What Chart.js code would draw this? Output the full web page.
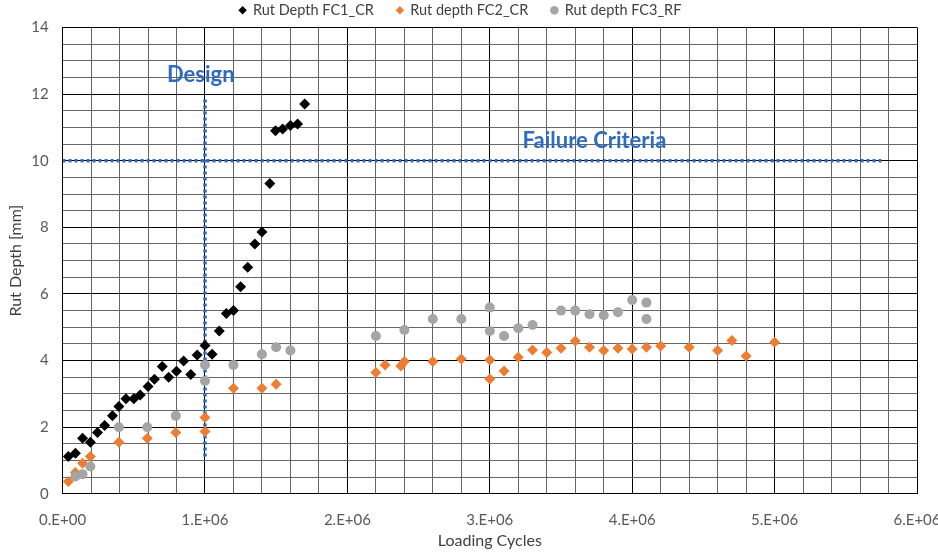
<!DOCTYPE html>
<html>
<head>
<meta charset="utf-8">
<script src="https://cdn.jsdelivr.net/npm/chart.js@4"></script>
<style>
  html, body { margin: 0; padding: 0; background: #fff; overflow: hidden; }
  #wrap { width: 938px; height: 553px; }
</style>
</head>
<body>
<div id="wrap"><canvas id="c" width="938" height="553"></canvas></div>
<script>
// Rut depth measurements against loading cycles
const fc1Cycles = [40000, 90000, 140000, 195000, 245000, 295000, 350000, 395000, 445000, 500000,
  545000, 600000, 645000, 700000, 745000, 800000, 850000, 900000, 945000, 1000000,
  1050000, 1100000, 1150000, 1200000, 1250000, 1300000, 1350000, 1400000, 1455000, 1495000,
  1545000, 1600000, 1650000, 1700000];
const fc1Depth = [1.12, 1.22, 1.67, 1.55, 1.84, 2.05, 2.34, 2.62, 2.85, 2.85,
  2.97, 3.22, 3.44, 3.82, 3.50, 3.68, 3.99, 3.58, 4.17, 4.45,
  4.19, 4.89, 5.41, 5.50, 6.22, 6.80, 7.50, 7.86, 9.32, 10.90,
  10.95, 11.06, 11.10, 11.70];

const fc2Cycles = [40000, 90000, 140000, 195000, 395000, 595000, 795000, 1000000, 1000000, 1200000,
  1400000, 1500000, 2200000, 2265000, 2375000, 2400000, 2600000, 2800000, 3000000, 3000000,
  3100000, 3200000, 3300000, 3400000, 3500000, 3600000, 3700000, 3800000, 3900000, 4000000,
  4100000, 4200000, 4400000, 4600000, 4700000, 4800000, 5000000];
const fc2Depth = [0.37, 0.64, 0.92, 1.12, 1.55, 1.67, 1.84, 2.29, 1.87, 3.17,
  3.17, 3.29, 3.64, 3.87, 3.84, 3.97, 3.97, 4.05, 4.02, 3.45,
  3.69, 4.10, 4.32, 4.24, 4.37, 4.59, 4.40, 4.30, 4.37, 4.35,
  4.40, 4.44, 4.40, 4.30, 4.60, 4.14, 4.55];

const fc3Cycles = [90000, 140000, 195000, 395000, 595000, 795000, 1000000, 1000000, 1200000, 1400000,
  1500000, 1600000, 2200000, 2400000, 2600000, 2800000, 3000000, 3000000, 3100000, 3200000,
  3300000, 3500000, 3600000, 3700000, 3800000, 3900000, 4000000, 4100000, 4100000];
const fc3Depth = [0.52, 0.59, 0.82, 2.00, 2.00, 2.34, 3.39, 3.87, 3.87, 4.19,
  4.40, 4.30, 4.74, 4.92, 5.25, 5.25, 5.59, 4.89, 4.74, 4.97,
  5.07, 5.50, 5.50, 5.39, 5.36, 5.45, 5.82, 5.74, 5.25];

const seriesNames = ['Rut Depth FC1_CR', 'Rut depth FC2_CR', 'Rut depth FC3_RF'];

// Reference lines: design life and failure criterion
const designCycles = 1000000;
const designSpan = [1.12, 11.85];
const failureDepth = 10;
const failureSpan = [0, 5750000];

const xTickLabels = ['0.E+00', '1.E+06', '2.E+06', '3.E+06', '4.E+06', '5.E+06', '6.E+06'];
const yTickLabels = ['0', '2', '4', '6', '8', '10', '12', '14'];

const pairs = (xs, ys) => xs.map((x, i) => ({ x: x, y: ys[i] }));

const refBlue = '#2e6cc2';
const FONT = 'Lato, "Open Sans", sans-serif';

const annotationText = {
  id: 'annotationText',
  afterDatasetsDraw(chart) {
    const { ctx, scales: { x, y } } = chart;
    ctx.save();
    ctx.fillStyle = refBlue;
    ctx.font = 'bold 22px ' + FONT;
    ctx.textAlign = 'center';
    ctx.textBaseline = 'middle';
    ctx.fillText('Design', x.getPixelForValue(970000), y.getPixelForValue(12.58));
    ctx.fillText('Failure Criteria', x.getPixelForValue(3735000), y.getPixelForValue(10.6));
    ctx.restore();
  }
};

new Chart(document.getElementById('c'), {
  type: 'scatter',
  data: {
    datasets: [
      {
        label: seriesNames[0], data: pairs(fc1Cycles, fc1Depth),
        pointStyle: 'rectRot', pointRadius: 5.5, borderWidth: 0,
        backgroundColor: '#000000', borderColor: '#000000', order: 3
      },
      {
        label: seriesNames[1], data: pairs(fc2Cycles, fc2Depth),
        pointStyle: 'rectRot', pointRadius: 5.5, borderWidth: 0,
        backgroundColor: '#ed7d31', borderColor: '#ed7d31', order: 2
      },
      {
        label: seriesNames[2], data: pairs(fc3Cycles, fc3Depth),
        pointStyle: 'circle', pointRadius: 5, borderWidth: 0,
        backgroundColor: '#a5a5a5', borderColor: '#a5a5a5', order: 1
      },
      {
        label: 'Design', type: 'line',
        data: designSpan.map(v => ({ x: designCycles, y: v })),
        borderColor: refBlue, borderWidth: 3.5, borderDash: [3, 3],
        pointRadius: 0, fill: false, order: 10
      },
      {
        label: 'Failure Criteria', type: 'line',
        data: failureSpan.map(v => ({ x: v, y: failureDepth })),
        borderColor: refBlue, borderWidth: 3.5, borderDash: [3, 3],
        pointRadius: 0, fill: false, order: 10
      }
    ]
  },
  options: {
    responsive: false,
    devicePixelRatio: 1,
    animation: false,
    layout: { padding: { top: -20, right: 21, bottom: 3, left: 4 } },
    plugins: {
      tooltip: { enabled: false },
      legend: {
        position: 'top',
        maxHeight: 48,
        labels: {
          usePointStyle: true,
          boxHeight: 6,
          boxWidth: 6,
          padding: 23,
          color: '#404040',
          font: { family: FONT, size: 14.5 },
          filter: item => item.datasetIndex < 3,
          sort: (a, b) => a.datasetIndex - b.datasetIndex
        }
      }
    },
    scales: {
      x: {
        type: 'linear', min: 0, max: 6000000,
        afterFit: scale => { scale.paddingRight = 0; },
        ticks: {
          stepSize: 200000, autoSkip: false, maxRotation: 0, padding: 17,
          color: '#595959', font: { family: FONT, size: 15 },
          callback: v => {
            const r = Math.round(v / 1000000);
            return Math.abs(v - r * 1000000) < 1 ? xTickLabels[r] : '';
          }
        },
        grid: {
          drawTicks: false,
          color: c => (c.tick && Math.abs(c.tick.value % 1000000) < 1) ? '#000000' : '#666666',
          lineWidth: 1
        },
        border: { color: '#000000', width: 1 },
        title: {
          display: true, text: 'Loading Cycles', color: '#404040',
          font: { family: FONT, size: 16 }, padding: { top: -15, bottom: 0 }
        }
      },
      y: {
        min: 0, max: 14,
        ticks: {
          stepSize: 0.5, autoSkip: false, padding: 14,
          color: '#595959', font: { family: FONT, size: 15 },
          callback: v => (Math.abs(v % 2) < 1e-9 ? yTickLabels[Math.round(v / 2)] : '')
        },
        grid: {
          drawTicks: false,
          color: c => (c.tick && Math.abs(c.tick.value % 2) < 1e-9) ? '#000000' : '#666666',
          lineWidth: 1
        },
        border: { color: '#000000', width: 1 },
        title: {
          display: true, text: 'Rut Depth [mm]', color: '#404040',
          font: { family: FONT, size: 16 }, padding: { top: 2, bottom: -8 }
        }
      }
    }
  },
  plugins: [annotationText]
});
</script>
</body>
</html>
